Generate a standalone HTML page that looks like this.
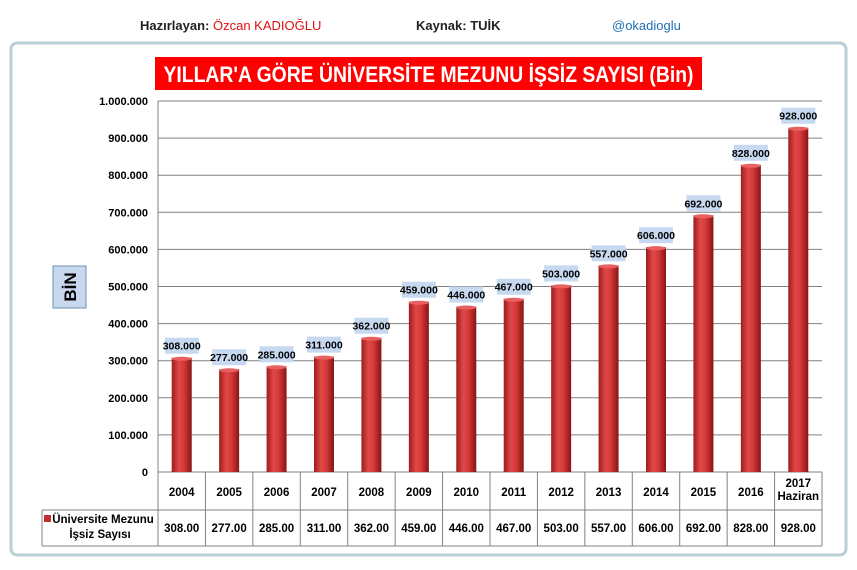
<!DOCTYPE html>
<html><head><meta charset="utf-8">
<style>
body{margin:0;background:#fff;font-family:"Liberation Sans",sans-serif;}
svg{display:block}
</style></head>
<body>
<svg id="c" width="857" height="570" xmlns="http://www.w3.org/2000/svg">
<defs>
<linearGradient id="bg" x1="0" x2="1" y1="0" y2="0">
<stop offset="0" stop-color="#9e1c1c"/><stop offset="0.35" stop-color="#e04848"/><stop offset="0.6" stop-color="#d63a3a"/><stop offset="1" stop-color="#8a1414"/>
</linearGradient>
</defs>
<text x="140" y="30" font-size="13" font-weight="bold" fill="#222">Hazırlayan: <tspan fill="#e01010" font-weight="normal">Özcan KADIOĞLU</tspan></text>
<text x="416" y="30" font-size="13" font-weight="bold" fill="#222">Kaynak: TUİK</text>
<text x="612" y="30" font-size="13" fill="#1f6fb5">@okadioglu</text>
<rect x="11" y="43" width="835" height="512" rx="6" fill="#fff" stroke="#b9cfd6" stroke-width="3"/>
<rect x="155" y="57" width="547" height="33" fill="#ff0000"/>
<text x="428.5" y="82" font-size="22" font-weight="bold" fill="#fff" text-anchor="middle" textLength="530" lengthAdjust="spacingAndGlyphs">YILLAR'A GÖRE ÜNİVERSİTE MEZUNU İŞSİZ SAYISI (Bin)</text>
<rect x="53" y="266" width="33" height="42" fill="#c8d8ef" stroke="#6e8fb0"/>
<text transform="translate(76,287) rotate(-90)" font-size="17" font-weight="bold" text-anchor="middle" fill="#000">BİN</text>
<g id="grid"></g><g id="bars"></g><g id="tbl"></g>
</svg>
<script>
const categories=["2004","2005","2006","2007","2008","2009","2010","2011","2012","2013","2014","2015","2016","2017 Haziran"];
const values=[308,277,285,311,362,459,446,467,503,557,606,692,828,928];
const yTicks=[0,100,200,300,400,500,600,700,800,900,1000];
const yTickLabels=["0","100.000","200.000","300.000","400.000","500.000","600.000","700.000","800.000","900.000","1.000.000"];
const NS="http://www.w3.org/2000/svg";
const L=158,R=822,T=101,B=472,maxV=1000;
const y=v=>B-(v/maxV)*(B-T);
const bw=(R-L)/categories.length;
const x=i=>L+bw*i+bw/2;
function mk(t,a,p,txt){const e=document.createElementNS(NS,t);for(const k in a)e.setAttribute(k,a[k]);if(txt!==undefined)e.textContent=txt;p.appendChild(e);return e;}
const g=document.getElementById('grid'),b=document.getElementById('bars'),tb=document.getElementById('tbl');
yTicks.forEach((v,i)=>{
 const l=mk('line',{x1:L,x2:R,y1:y(v),y2:y(v),stroke:'#808080','stroke-width':1},g);
 
 
 const t=mk('text',{x:148,y:y(v)+4,'font-size':11,'font-weight':'bold','text-anchor':'end',fill:'#000'},g,yTickLabels[i]);
 
 
});
mk('line',{x1:L,x2:L,y1:T,y2:B,stroke:'#808080'},g);
values.forEach((v,i)=>{
 const r=mk('rect',{x:x(i)-10,y:y(v),width:20,height:B-y(v),fill:'url(#bg)'},b);
 
 
 mk('ellipse',{cx:x(i),cy:y(v)+1,rx:10,ry:2,fill:'#e86060'},b);
 const lb=mk('rect',{x:x(i)-17,y:y(v)-20,width:34,height:16,fill:'#c6d9f0'},b);
 
 
 const t=mk('text',{x:x(i),y:y(v)-8,'font-size':10.5,'font-weight':'bold','text-anchor':'middle',fill:'#000'},b,v+'.000');
 
 
});
// table
const TR1=B,TR2=510,TR3=546,TL=42;
const st={stroke:'#808080',fill:'none'};
mk('line',{x1:R,x2:R,y1:B,y2:TR3,stroke:'#808080'},tb);
mk('line',{x1:L,x2:R,y1:TR2,y2:TR2,stroke:'#808080'},tb);
mk('line',{x1:TL,x2:R,y1:TR2,y2:TR2,stroke:'#808080'},tb);
mk('line',{x1:TL,x2:R,y1:TR3,y2:TR3,stroke:'#808080'},tb);
mk('line',{x1:TL,x2:TL,y1:TR2,y2:TR3,stroke:'#808080'},tb);
categories.forEach((c,i)=>{
 mk('line',{x1:L+bw*i,x2:L+bw*i,y1:B,y2:TR3,stroke:'#808080'},tb);
 const parts=c.split(' ');
 parts.forEach((p,j)=>{
  const t=mk('text',{x:x(i),y:parts.length>1?487+j*13:496,'font-size':11.5,'font-weight':'bold','text-anchor':'middle',fill:'#000'},tb,p);
  
  
 });
 const t=mk('text',{x:x(i),y:532,'font-size':11.5,'font-weight':'bold','text-anchor':'middle',fill:'#000'},tb,values[i]+'.00');
 
 
});
const lk=mk('rect',{x:44,y:515,width:7,height:7,fill:'#c0302e'},tb);


const l1=mk('text',{x:103,y:523,'font-size':11.5,'font-weight':'bold','text-anchor':'middle',fill:'#000'},tb,'Üniversite Mezunu');


const l2=mk('text',{x:100,y:538,'font-size':11.5,'font-weight':'bold','text-anchor':'middle',fill:'#000'},tb,'İşsiz Sayısı');


</script>
</body></html>
